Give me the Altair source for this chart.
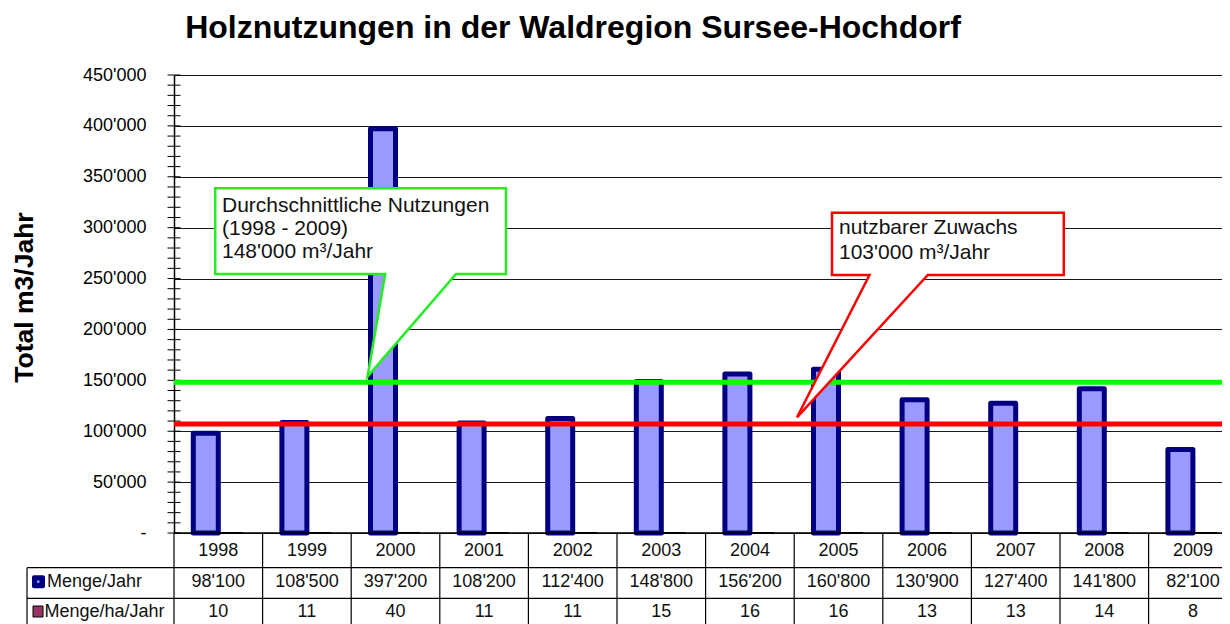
import altair as alt
import pandas as pd

# ---------------- data ----------------
years = ["1998", "1999", "2000", "2001", "2002", "2003",
         "2004", "2005", "2006", "2007", "2008", "2009"]
menge = [98100, 108500, 397200, 108200, 112400, 148800,
         156200, 160800, 130900, 127400, 141800, 82100]
menge_ha = [10, 11, 40, 11, 11, 15, 16, 16, 13, 13, 14, 8]

avg_value = 148000        # green line (Durchschnitt)
zuwachs_value = 107000    # red line as drawn
major_ticks = list(range(0, 450001, 50000))
minor_ticks = list(range(0, 450001, 10000))

title_text = "Holznutzungen in der Waldregion Sursee-Hochdorf"
y_title = "Total m3/Jahr"
green_lines = ["Durchschnittliche Nutzungen", "(1998 - 2009)", "148'000 m\u00b3/Jahr"]
red_lines = ["nutzbarer Zuwachs", "103'000 m\u00b3/Jahr"]
row_labels = ["Menge/Jahr", "Menge/ha/Jahr"]


def fmt(v):
    return f"{v:,}".replace(",", "'")


df = pd.DataFrame({
    "year": years,
    "menge": menge,
    "ha": menge_ha,
    "menge_lbl": [fmt(v) for v in menge],
    "ha_lbl": [str(v) for v in menge_ha],
})

FONT = "Liberation Sans"
BAND = 88.6
RANGE_W = BAND * len(years)
W, H = 1048, 458
PAD_B = 91

xs = alt.X("year:N", sort=years,
           scale=alt.Scale(domain=years, range=[0, RANGE_W], paddingInner=0, paddingOuter=0),
           axis=None)
yscale = alt.Scale(domain=[0, 450000], nice=False, zero=True)
label_expr = ("datum.value == 0 ? '-\u00a0\u00a0' : "
              "replace(format(datum.value, ','), ',', \"'\")")
yaxis = alt.Axis(values=major_ticks, labelExpr=label_expr, ticks=False,
                 grid=True, gridColor="#000000", gridWidth=1, gridOpacity=0.9,
                 domain=True, domainColor="#000000", domainWidth=1.5,
                 labelFontSize=18, labelColor="#000000", labelFont=FONT,
                 labelPadding=28, title=None)


def Y(field):
    return alt.Y(field, scale=yscale, axis=yaxis)


base = alt.Chart(df)

bars = base.mark_bar(width=25, xOffset=-12.5, fill="#9999FF", stroke="#000080",
                     strokeWidth=5, strokeJoin="round").encode(x=xs, y=Y("menge:Q"))
bars_ha = base.mark_bar(width=21, xOffset=13, fill="#993366", stroke="#000000",
                        strokeWidth=2).encode(x=xs, y=Y("ha:Q"))

ticks_df = pd.DataFrame({"t": minor_ticks})
minor = alt.Chart(ticks_df).mark_rule(color="#000000", strokeWidth=1).encode(
    y=Y("t:Q"), x=alt.value(-6.5), x2=alt.value(6.5))

one = pd.DataFrame({"a": [0]})
zero_line = alt.Chart(one).mark_rule(color="#000000", strokeWidth=1.5).encode(y=alt.datum(0))
avg_line = alt.Chart(one).mark_rule(color="#00FF00", strokeWidth=5).encode(y=alt.datum(avg_value))
zu_line = alt.Chart(one).mark_rule(color="#FF0000", strokeWidth=5).encode(y=alt.datum(zuwachs_value))

# callouts (anchored at the lines)
green_anchor = pd.DataFrame({"year": ["2000"], "v": [avg_value]})
red_anchor = pd.DataFrame({"year": ["2005"], "v": [zuwachs_value]})
green_path = ("M -180.3 -194.1 L 110.5 -194.1 L 110.5 -108.4 L 60.5 -108.4 "
              "L -28 -5.7 L -10.3 -108.4 L -180.3 -108.4 Z")
red_path = ("M -6.5 -211.4 L 225.3 -211.4 L 225.3 -149.1 L 89.3 -149.1 "
            "L -41.5 -6.8 L 31 -149.1 L -6.5 -149.1 Z")

green_box = alt.Chart(green_anchor).mark_point(
    shape=green_path, size=4, filled=True, fill="#FFFFFF", stroke="#22EE22",
    strokeWidth=2.5, opacity=1, fillOpacity=1, strokeOpacity=1, strokeJoin="miter"
).encode(x=xs, y=Y("v:Q"))
red_box = alt.Chart(red_anchor).mark_point(
    shape=red_path, size=4, filled=True, fill="#FFFFFF", stroke="#FF0000",
    strokeWidth=2.5, opacity=1, fillOpacity=1, strokeOpacity=1, strokeJoin="miter"
).encode(x=xs, y=Y("v:Q"))

callout_texts = []
for i, line in enumerate(green_lines):
    callout_texts.append(
        alt.Chart(green_anchor.assign(t=line)).mark_text(
            align="left", baseline="alphabetic", font=FONT, fontSize=21, color="#111111",
            dx=-173.5, dy=-170.7 + i * 23.2
        ).encode(x=xs, y=Y("v:Q"), text="t:N"))
for i, line in enumerate(red_lines):
    callout_texts.append(
        alt.Chart(red_anchor.assign(t=line)).mark_text(
            align="left", baseline="alphabetic", font=FONT, fontSize=21, color="#111111",
            dx=0.5, dy=-190.1 + i * 25
        ).encode(x=xs, y=Y("v:Q"), text="t:N"))

# title and y title
title = alt.Chart(pd.DataFrame({"t": [title_text]})).mark_text(
    font=FONT, fontSize=32, fontWeight="bold", align="center", baseline="alphabetic",
    color="#000000").encode(x=alt.value(399), y=alt.value(-37), text="t:N")
ytitle = alt.Chart(pd.DataFrame({"t": [y_title]})).mark_text(
    font=FONT, fontSize=26.5, fontWeight="bold", align="center", baseline="alphabetic",
    angle=270, color="#000000").encode(x=alt.value(-141), y=alt.value(222.5), text="t:N")

# data table below the plot
ROW1, ROW2, ROW3 = 475.7, 506.7, 536.5
HL1, HL2 = 492.7, 523.3
year_txt = base.mark_text(font=FONT, fontSize=18, color="#111111", baseline="middle").encode(
    x=xs, y=alt.value(ROW1), text="year:N")
menge_txt = base.mark_text(font=FONT, fontSize=18, color="#111111", baseline="middle").encode(
    x=xs, y=alt.value(ROW2), text="menge_lbl:N")
ha_txt = base.mark_text(font=FONT, fontSize=18, color="#111111", baseline="middle").encode(
    x=xs, y=alt.value(ROW3), text="ha_lbl:N")

col_lines = base.mark_rule(color="#000000", strokeWidth=1.2, xOffset=-BAND / 2).encode(
    x=xs, y=alt.value(H), y2=alt.value(H + 95))
hline1 = alt.Chart(one).mark_rule(color="#000000", strokeWidth=1.2).encode(
    x=alt.value(-147), x2=alt.value(W + 20), y=alt.value(HL1))
hline2 = alt.Chart(one).mark_rule(color="#000000", strokeWidth=1.2).encode(
    x=alt.value(-147), x2=alt.value(W + 20), y=alt.value(HL2))
vleft = alt.Chart(one).mark_rule(color="#000000", strokeWidth=1.2).encode(
    x=alt.value(-147), y=alt.value(HL1), y2=alt.value(H + 95))

row_lab1 = alt.Chart(pd.DataFrame({"t": [row_labels[0]]})).mark_text(
    font=FONT, fontSize=18, color="#111111", align="left", baseline="middle").encode(
    x=alt.value(-127), y=alt.value(ROW2), text="t:N")
row_lab2 = alt.Chart(pd.DataFrame({"t": [row_labels[1]]})).mark_text(
    font=FONT, fontSize=18, color="#111111", align="left", baseline="middle").encode(
    x=alt.value(-129.5), y=alt.value(ROW3), text="t:N")

sym1 = alt.Chart(one).mark_rect(fill="#000080", cornerRadius=2).encode(
    x=alt.value(-142), x2=alt.value(-129), y=alt.value(ROW2 - 6.5), y2=alt.value(ROW2 + 6.5))
sym1dot = alt.Chart(one).mark_rect(fill="#9999FF").encode(
    x=alt.value(-137), x2=alt.value(-134.5), y=alt.value(ROW2 - 1.3), y2=alt.value(ROW2 + 1.2))
sym2 = alt.Chart(one).mark_rect(fill="#993366", stroke="#000000", strokeWidth=1).encode(
    x=alt.value(-141), x2=alt.value(-131), y=alt.value(ROW3 - 5.5), y2=alt.value(ROW3 + 5.5))

chart = alt.layer(
    minor, bars, bars_ha, zero_line, avg_line, zu_line,
    green_box, red_box, *callout_texts,
    title, ytitle,
    col_lines, hline1, hline2, vleft,
    year_txt, menge_txt, ha_txt, row_lab1, row_lab2, sym1, sym1dot, sym2,
).properties(
    width=W, height=H,
    autosize=alt.AutoSizeParams(type="none"),
    padding={"left": 166, "top": 67, "right": 0, "bottom": PAD_B},
    background="#FFFFFF",
).configure_view(strokeWidth=0)

chart.save("out.html", embed_options={"renderer": "svg", "actions": False})
